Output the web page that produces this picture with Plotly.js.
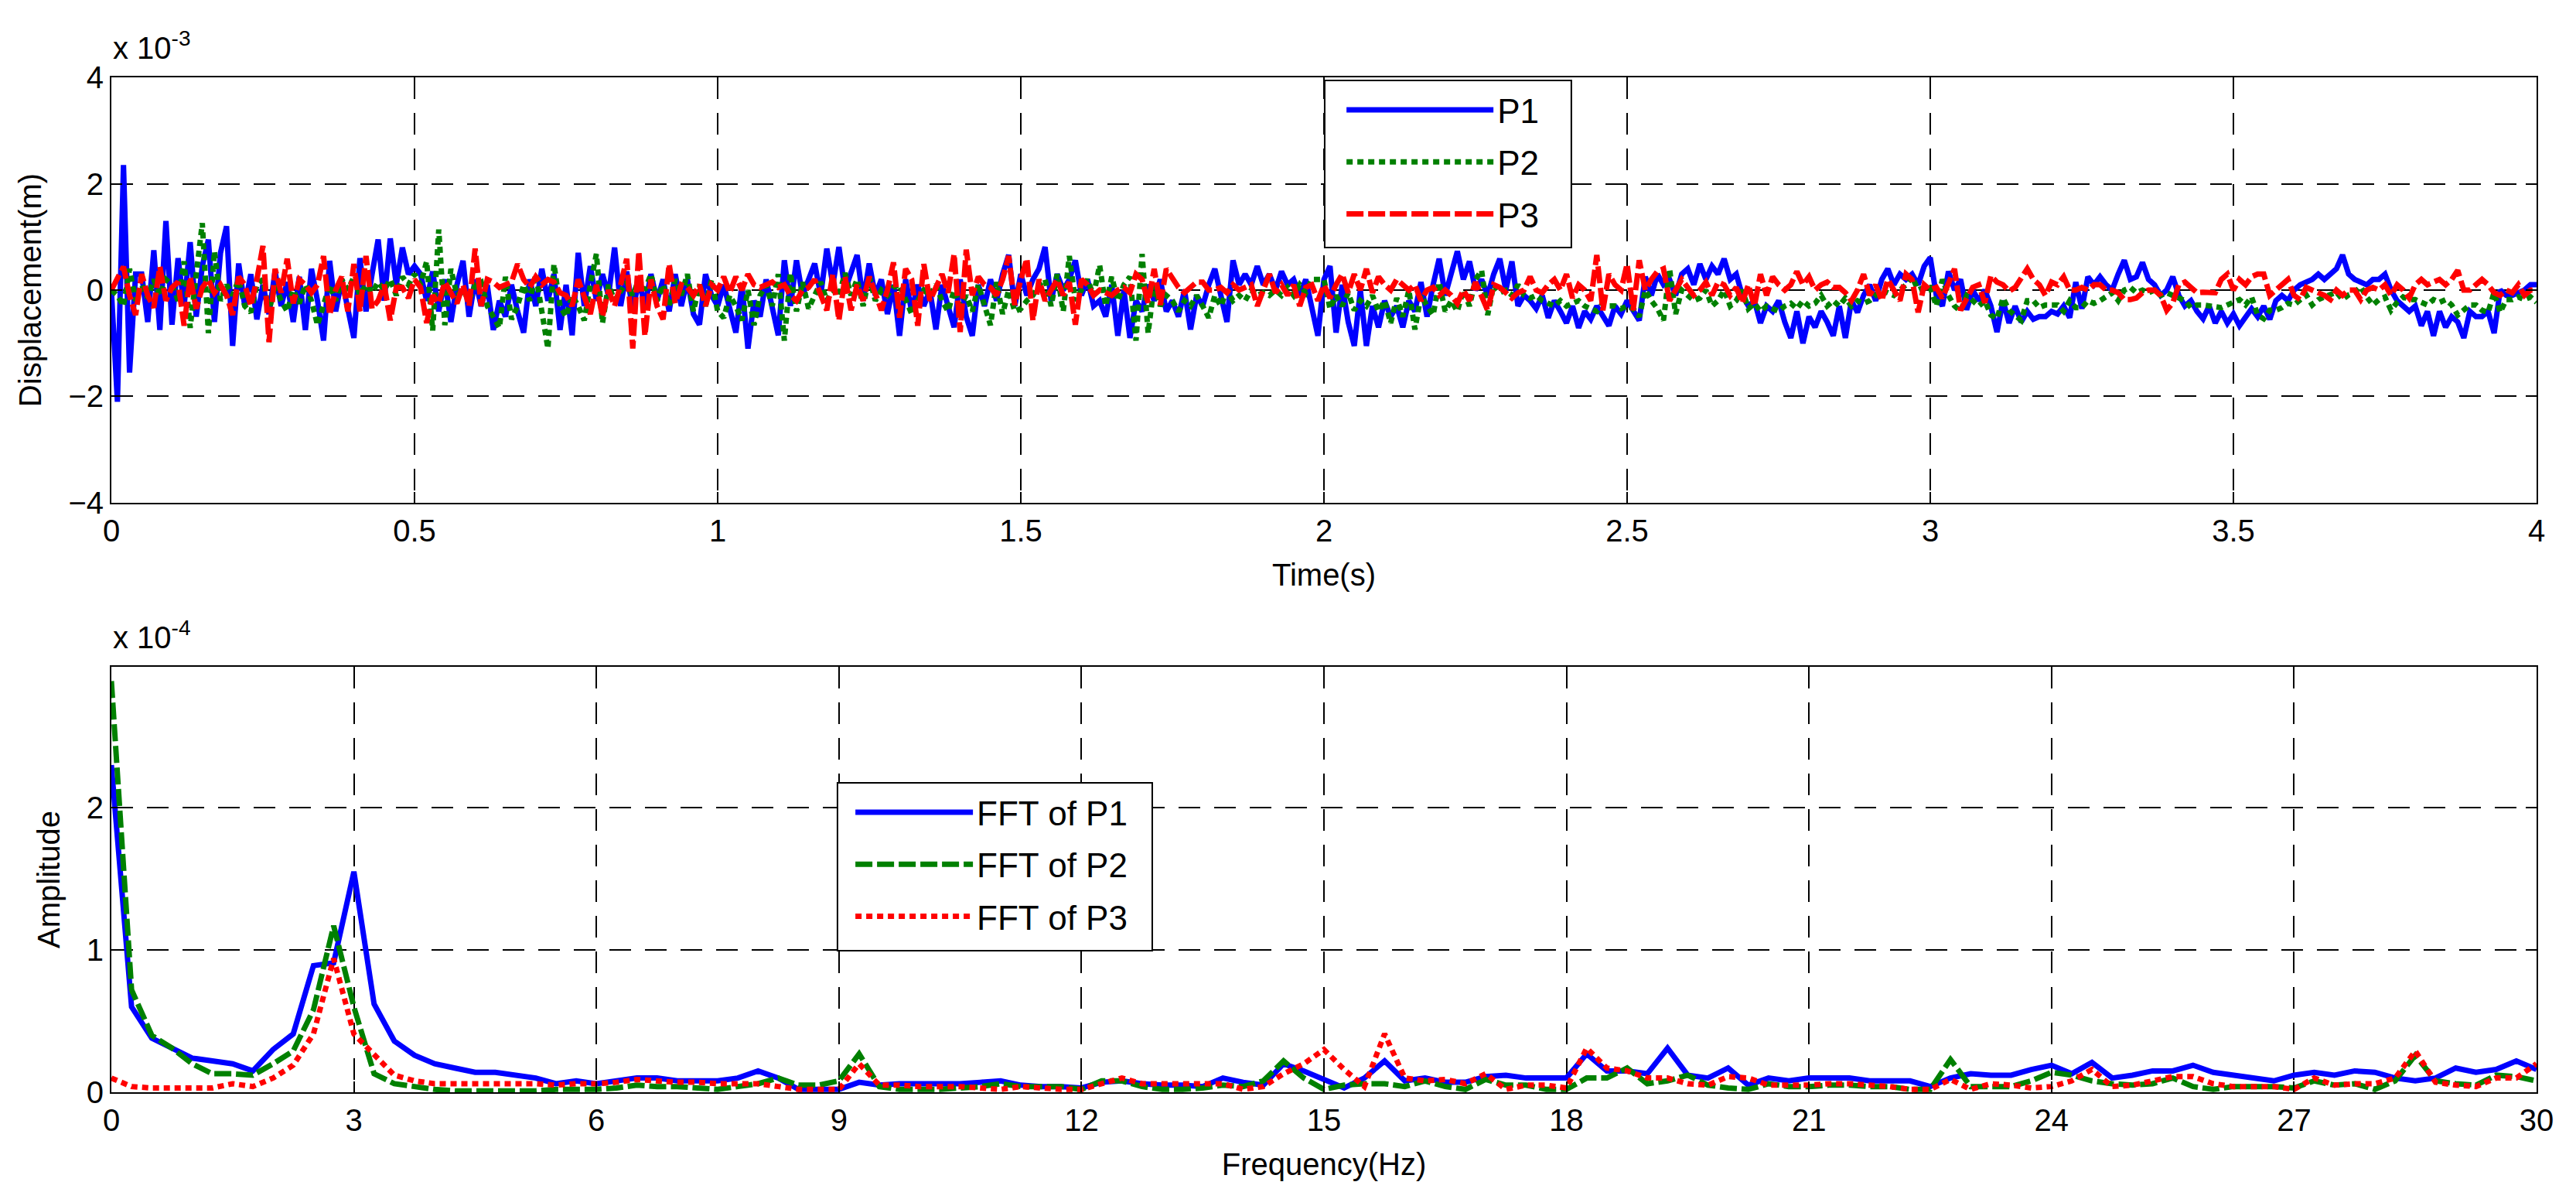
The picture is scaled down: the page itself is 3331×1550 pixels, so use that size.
<!DOCTYPE html>
<html>
<head>
<meta charset="utf-8">
<script src="https://cdn.plot.ly/plotly-3.0.1.min.js"></script>
<style>html,body{margin:0;padding:0;background:#fff;}#chart{width:3331px;height:1550px;}</style>
</head>
<body>
<div id="chart"></div>
<script>
// ---- Time series (units of 1e-3 m), sampled every 0.01 s from 0 to 4 s ----
var timeStart = 0, timeStep = 0.01;
var p1 = [
0.0,-2.1,2.35,-1.55,0.3,0.3,-0.6,0.75,-0.75,1.3,
-0.65,0.6,-0.3,0.9,-0.5,0.45,0.95,-0.6,0.7,1.2,
-1.05,0.5,-0.3,0.3,-0.55,0.1,-0.45,0.35,-0.3,0.15,
-0.6,0.25,-0.75,0.4,-0.2,-0.95,0.55,-0.4,0.2,-0.3,
-0.9,0.6,-0.4,0.3,0.95,-0.2,0.97,0.1,0.8,0.3,
0.45,0.3,-0.2,0.35,-0.4,0.2,-0.6,0.1,0.55,-0.5,
0.2,-0.3,0.1,-0.75,-0.2,-0.5,0.1,-0.4,-0.8,0.2,
-0.3,0.4,-0.2,0.3,-0.75,0.1,-0.85,0.7,-0.3,0.45,
-0.2,0.3,-0.1,0.8,-0.3,0.35,-0.4,0.2,-0.3,0.3,
-0.2,0.2,-0.4,0.3,-0.3,0.2,-0.45,-0.65,0.3,-0.1,
-0.3,0.1,-0.4,-0.8,0.1,-1.1,-0.2,-0.5,0.2,-0.3,
-0.85,0.56,-0.3,0.56,-0.1,0.2,0.5,-0.1,0.78,0.1,
0.81,0.0,0.3,0.66,-0.2,0.5,-0.1,0.2,-0.45,0.1,
-0.86,0.2,-0.4,0.1,-0.3,0.0,-0.74,0.1,-0.3,-0.7,
0.2,-0.5,-0.86,0.1,-0.3,0.2,-0.2,0.3,0.66,-0.3,
0.3,-0.1,0.2,0.4,0.81,-0.2,0.3,0.0,0.2,0.56,
-0.1,0.2,-0.3,-0.2,-0.5,0.1,-0.86,0.0,-0.9,-0.2,
-0.4,0.1,-0.2,0.2,-0.4,-0.2,-0.5,0.0,-0.74,-0.1,
-0.3,0.1,0.4,-0.1,-0.6,0.56,0.1,0.3,0.1,0.45,
0.1,0.3,0.0,0.35,0.1,0.2,-0.1,0.2,-0.3,-0.86,
0.2,0.45,-0.8,0.1,-0.6,-1.05,0.0,-1.05,-0.3,-0.7,
-0.2,-0.5,-0.3,-0.7,-0.2,-0.4,0.15,-0.5,0.1,0.59,
-0.1,0.3,0.73,0.2,0.54,0.0,0.2,-0.1,0.3,0.59,
0.0,0.54,-0.3,-0.1,-0.2,-0.35,-0.1,-0.52,-0.2,-0.4,
-0.62,-0.3,-0.71,-0.4,-0.55,-0.3,-0.5,-0.67,-0.3,-0.45,
-0.2,-0.4,-0.57,0.25,-0.1,0.3,0.1,0.2,-0.1,0.3,
0.4,0.1,0.49,0.2,0.45,0.3,0.59,0.2,0.3,-0.1,
-0.3,-0.2,-0.62,-0.3,-0.4,-0.2,-0.6,-0.9,-0.4,-1.0,
-0.5,-0.7,-0.4,-0.6,-0.86,-0.3,-0.9,-0.2,-0.42,-0.1,
0.1,-0.2,0.2,0.4,0.1,0.3,0.2,0.3,0.1,0.45,
0.61,-0.1,-0.3,0.35,0.0,0.2,-0.37,0.0,-0.2,0.0,
-0.3,-0.79,-0.2,-0.62,-0.3,-0.6,-0.4,-0.55,-0.5,-0.5,
-0.4,-0.45,-0.3,-0.52,0.15,-0.35,0.25,0.1,0.25,0.1,
0.0,0.3,0.56,0.2,0.25,0.52,0.2,0.1,-0.1,0.0,
0.25,-0.1,-0.3,-0.2,-0.4,-0.54,-0.3,-0.62,-0.4,-0.62,
-0.45,-0.67,-0.5,-0.35,-0.5,-0.3,-0.55,-0.2,-0.1,-0.2,
0.0,0.1,0.15,0.2,0.3,0.2,0.3,0.4,0.66,0.3,
0.2,0.15,0.1,0.2,0.2,0.3,0.0,-0.2,-0.3,-0.4,
-0.3,-0.67,-0.4,-0.86,-0.4,-0.7,-0.5,-0.6,-0.9,-0.4,
-0.5,-0.5,-0.4,-0.81,0.0,-0.1,-0.1,-0.05,0.0,0.1,
0.1];
var p2 = [
0.0,-0.1,-0.3,0.4,-0.2,0.1,-0.15,0.2,-0.1,0.2,
0.1,-0.2,0.54,-0.71,0.3,1.26,-0.81,0.73,-0.2,0.1,
-0.1,0.2,-0.3,-0.42,0.1,0.2,-0.4,0.1,-0.2,-0.4,
0.0,-0.25,0.1,-0.2,-0.66,-0.3,0.1,-0.2,0.2,0.0,
0.25,-0.1,0.1,-0.05,0.15,0.0,0.2,-0.1,0.25,0.1,
0.3,0.1,0.54,-0.76,1.14,-0.66,0.4,-0.1,0.0,-0.2,
0.1,0.15,-0.3,-0.5,-0.71,0.25,-0.55,-0.3,0.1,-0.2,
0.3,-0.4,-1.1,0.49,-0.3,-0.5,-0.1,-0.3,-0.57,0.1,
0.68,-0.62,0.1,-0.2,0.0,0.15,-0.1,0.2,0.0,0.3,
-0.2,0.1,-0.3,0.2,-0.1,0.3,-0.4,0.1,-0.3,0.2,
-0.4,-0.52,-0.1,-0.3,-0.57,0.0,-0.66,-0.1,0.1,-0.3,
0.3,-0.95,0.32,-0.4,0.15,-0.35,-0.1,0.15,-0.2,0.0,
-0.1,0.32,-0.1,0.2,-0.3,0.25,-0.2,0.0,-0.1,0.05,
0.1,-0.2,-0.45,-0.2,0.0,-0.1,0.1,-0.2,-0.4,0.0,
-0.3,-0.1,-0.4,0.1,-0.3,-0.66,0.15,-0.45,0.0,-0.4,
-0.35,-0.2,-0.1,0.1,0.2,-0.3,0.3,-0.4,0.64,-0.2,
0.0,0.2,-0.1,0.47,-0.3,0.25,-0.2,0.1,0.25,-0.95,
0.68,-0.81,0.1,-0.3,-0.1,-0.2,-0.4,-0.2,-0.3,-0.1,
-0.3,-0.52,-0.1,-0.3,0.0,-0.2,-0.1,-0.2,0.0,-0.1,
-0.05,-0.1,0.0,-0.1,0.05,-0.1,0.1,-0.05,0.2,0.2,
0.2,-0.35,-0.1,-0.3,-0.05,-0.38,-0.2,-0.3,-0.1,-0.4,
-0.2,-0.62,-0.15,-0.5,0.0,-0.74,-0.1,-0.3,-0.47,0.15,
-0.4,-0.2,-0.4,0.0,-0.3,0.2,0.37,-0.47,0.1,-0.05,
0.0,-0.1,0.1,-0.1,-0.15,-0.1,-0.2,-0.25,-0.3,-0.2,
-0.3,-0.25,-0.2,-0.3,-0.35,-0.4,-0.25,-0.3,-0.3,-0.35,
-0.3,-0.35,-0.5,0.0,-0.2,-0.35,-0.57,0.4,-0.45,0.0,
-0.1,-0.2,-0.15,0.0,-0.3,-0.2,0.0,-0.3,-0.2,0.0,
-0.35,-0.25,-0.4,-0.3,-0.35,-0.4,-0.3,-0.25,-0.35,-0.2,
-0.3,-0.25,-0.1,-0.3,-0.2,-0.3,-0.15,-0.3,-0.2,-0.25,
-0.2,-0.1,0.0,-0.05,-0.1,0.0,0.1,0.25,0.0,0.05,
0.05,-0.3,0.2,-0.1,-0.3,-0.4,-0.1,-0.2,-0.3,-0.2,
-0.47,-0.54,-0.15,-0.38,-0.47,-0.57,-0.2,-0.2,-0.33,-0.28,
-0.28,-0.28,-0.4,-0.2,-0.33,-0.33,-0.2,-0.25,-0.2,-0.13,
-0.05,-0.2,0.0,0.05,-0.05,0.0,-0.05,0.0,-0.1,-0.05,
-0.1,-0.13,-0.2,-0.33,-0.28,-0.28,-0.3,-0.3,-0.33,-0.28,
-0.23,-0.18,-0.28,-0.13,-0.47,-0.54,-0.38,-0.38,-0.33,-0.25,
-0.28,-0.18,-0.09,-0.28,-0.18,-0.13,-0.09,-0.04,-0.18,-0.09,
-0.04,0.06,-0.13,-0.28,-0.18,-0.13,-0.38,-0.23,-0.13,-0.18,
-0.18,-0.23,-0.28,-0.18,-0.23,-0.18,-0.28,-0.47,-0.38,-0.28,
-0.28,-0.38,-0.42,-0.04,-0.42,-0.18,-0.18,-0.13,-0.18,-0.13,
-0.23];
var p3 = [
0.0,0.2,0.44,-0.1,-0.47,0.3,-0.1,-0.33,0.44,-0.2,
0.05,0.15,-0.67,0.25,-0.35,0.05,0.2,-0.05,0.1,-0.1,
-0.47,0.25,0.1,-0.3,0.2,0.83,-0.98,0.4,-0.05,0.59,
-0.25,0.2,0.1,-0.05,0.1,0.64,-0.47,0.0,0.25,-0.4,
0.49,-0.4,0.64,-0.35,-0.2,0.1,-0.57,0.05,0.05,-0.15,
0.2,0.05,-0.62,-0.1,-0.25,0.15,-0.05,-0.25,0.1,-0.3,
0.78,-0.3,0.2,0.15,0.05,0.1,0.15,0.49,0.2,0.05,
0.25,0.1,0.2,0.15,-0.05,-0.1,-0.3,0.2,-0.1,-0.45,
0.1,-0.5,0.0,-0.3,0.1,0.59,-1.1,0.73,-0.86,0.2,
-0.3,-0.55,0.49,-0.25,0.1,0.05,-0.1,0.1,-0.3,0.1,
0.0,0.25,-0.05,0.25,0.0,0.3,0.1,0.05,0.1,0.15,
0.05,0.1,-0.1,-0.2,0.0,0.05,0.2,-0.1,-0.38,0.3,
-0.57,0.25,-0.38,0.1,-0.2,0.25,-0.1,-0.38,0.0,0.52,
-0.52,0.4,0.2,-0.67,0.49,-0.2,0.05,0.3,-0.05,0.68,
-0.79,0.76,-0.1,0.25,0.1,0.05,-0.1,0.2,0.64,-0.28,
0.2,0.59,-0.57,0.2,-0.2,0.0,0.2,-0.1,0.15,-0.65,
0.2,0.1,-0.1,0.0,-0.05,-0.1,0.0,0.05,-0.05,0.3,
0.2,-0.24,0.4,-0.28,0.4,0.2,0.05,-0.05,0.05,0.15,
0.15,0.0,0.0,0.05,-0.05,0.1,0.0,0.05,0.1,-0.3,
0.0,0.3,-0.05,0.1,-0.1,0.1,-0.3,0.05,0.1,-0.2,
0.1,-0.15,0.1,0.3,-0.05,0.3,0.0,0.4,-0.05,0.25,
0.1,0.0,0.2,0.1,0.0,0.1,-0.2,0.0,0.05,-0.1,
0.0,-0.1,-0.25,0.0,-0.2,0.15,-0.1,-0.38,0.1,0.05,
-0.05,-0.15,-0.05,0.0,0.25,0.0,-0.05,0.1,0.2,0.0,
0.3,-0.15,0.1,0.0,-0.2,0.66,-0.38,0.3,0.1,0.0,
0.49,-0.38,0.56,0.0,0.2,0.35,0.4,-0.2,0.0,0.2,
0.05,-0.1,0.0,0.15,-0.1,0.15,0.1,-0.1,0.05,-0.24,
0.1,-0.3,0.3,-0.1,0.25,0.1,0.0,0.1,0.35,0.1,
0.25,0.0,0.1,0.15,0.05,0.05,-0.05,-0.2,0.0,0.3,
-0.1,0.1,-0.2,0.2,0.0,-0.2,0.3,0.2,-0.42,0.1,
0.0,0.05,-0.15,0.1,0.4,-0.38,-0.15,0.05,0.1,-0.24,
0.27,0.15,0.1,-0.02,0.05,0.25,0.4,0.2,0.1,-0.1,
0.15,0.1,0.25,0.0,0.0,0.05,0.0,0.1,0.1,0.0,
0.0,-0.05,-0.18,-0.18,-0.15,-0.05,0.0,0.0,-0.1,-0.38,
-0.24,0.1,0.15,0.05,-0.05,-0.04,-0.04,-0.05,0.2,0.3,
0.0,0.2,0.1,0.25,0.3,0.3,-0.1,0.0,0.1,0.2,
-0.1,-0.18,0.05,0.0,-0.05,-0.1,-0.18,0.0,-0.1,0.0,
0.0,-0.18,0.0,0.05,0.0,0.1,-0.1,0.1,0.0,-0.15,
0.1,0.2,0.1,0.15,0.2,0.1,0.2,0.37,0.0,0.0,
0.1,0.2,0.1,-0.05,-0.1,0.0,-0.05,0.1,-0.1,0.0,
0.0];

// ---- FFT amplitudes (units of 1e-4), every 0.25 Hz from 0 to 30 Hz ----
var freqStart = 0, freqStep = 0.25;
var fft1 = [
2.3,0.6,0.38,0.31,0.24,0.22,0.2,0.15,0.3,0.41,
0.89,0.91,1.55,0.62,0.36,0.26,0.2,0.17,0.14,0.14,
0.12,0.1,0.06,0.08,0.06,0.08,0.1,0.1,0.08,0.08,
0.08,0.1,0.15,0.1,0.02,0.02,0.02,0.07,0.05,0.06,
0.06,0.06,0.06,0.07,0.08,0.05,0.04,0.04,0.03,0.07,
0.08,0.06,0.05,0.05,0.04,0.1,0.07,0.05,0.2,0.15,
0.09,0.03,0.1,0.22,0.08,0.1,0.07,0.07,0.11,0.12,
0.1,0.1,0.1,0.27,0.15,0.15,0.13,0.31,0.12,0.1,
0.17,0.05,0.1,0.08,0.1,0.1,0.1,0.08,0.08,0.08,
0.04,0.1,0.13,0.12,0.12,0.16,0.19,0.13,0.21,0.1,
0.12,0.15,0.15,0.19,0.14,0.12,0.1,0.08,0.12,0.14,
0.12,0.15,0.14,0.1,0.08,0.1,0.17,0.14,0.16,0.22,
0.16];
var fft2 = [
2.89,0.72,0.4,0.31,0.2,0.13,0.13,0.12,0.2,0.29,
0.58,1.17,0.6,0.13,0.06,0.04,0.02,0.01,0.01,0.01,
0.01,0.01,0.02,0.02,0.02,0.03,0.05,0.04,0.04,0.03,
0.02,0.04,0.06,0.1,0.05,0.05,0.08,0.27,0.04,0.02,
0.02,0.02,0.03,0.04,0.06,0.04,0.04,0.04,0.02,0.08,
0.08,0.04,0.02,0.02,0.03,0.05,0.04,0.08,0.22,0.1,
0.02,0.05,0.06,0.06,0.04,0.08,0.04,0.02,0.09,0.05,
0.05,0.02,0.02,0.1,0.1,0.17,0.06,0.08,0.12,0.05,
0.03,0.02,0.06,0.04,0.04,0.05,0.05,0.04,0.04,0.02,
0.02,0.23,0.04,0.04,0.04,0.08,0.14,0.12,0.08,0.06,
0.05,0.06,0.1,0.04,0.02,0.04,0.04,0.04,0.03,0.08,
0.05,0.06,0.02,0.08,0.26,0.08,0.06,0.05,0.12,0.11,
0.08];
var fft3 = [
0.1,0.04,0.03,0.03,0.03,0.03,0.06,0.04,0.1,0.19,
0.41,0.94,0.41,0.27,0.12,0.08,0.06,0.06,0.06,0.06,
0.06,0.06,0.05,0.06,0.06,0.07,0.09,0.08,0.07,0.07,
0.06,0.06,0.06,0.04,0.02,0.02,0.02,0.2,0.05,0.05,
0.04,0.04,0.04,0.03,0.02,0.04,0.03,0.02,0.02,0.06,
0.1,0.06,0.06,0.06,0.06,0.06,0.02,0.04,0.13,0.2,
0.3,0.16,0.04,0.41,0.1,0.08,0.09,0.06,0.13,0.02,
0.05,0.05,0.03,0.31,0.17,0.15,0.1,0.1,0.06,0.05,
0.11,0.1,0.05,0.05,0.05,0.06,0.06,0.05,0.04,0.02,
0.02,0.09,0.02,0.06,0.05,0.03,0.04,0.08,0.16,0.04,
0.05,0.08,0.11,0.11,0.06,0.04,0.04,0.04,0.02,0.1,
0.05,0.06,0.06,0.1,0.29,0.07,0.05,0.04,0.1,0.1,
0.2];

// ---- Tick labels ----
var timeTicks = [0,0.5,1,1.5,2,2.5,3,3.5,4];
var timeTickText = ['0','0.5','1','1.5','2','2.5','3','3.5','4'];
var dispTicks = [-4,-2,0,2,4];
var freqTicks = [0,3,6,9,12,15,18,21,24,27,30];
var ampTicks = [0,1,2];

var FONT = 'Liberation Sans, Arial, Helvetica, sans-serif';
var LW = 7;

var traces = [
  {type:'scatter', mode:'lines', name:'P1', x0:timeStart, dx:timeStep, y:p1, xaxis:'x', yaxis:'y', legend:'legend', legendgroup:'a',
   line:{color:'#0000ff', width:LW, dash:'solid'}},
  {type:'scatter', mode:'lines', name:'P2', x0:timeStart, dx:timeStep, y:p2, xaxis:'x', yaxis:'y', legend:'legend', legendgroup:'b',
   line:{color:'#008000', width:LW, dash:'8px,6px'}},
  {type:'scatter', mode:'lines', name:'P3', x0:timeStart, dx:timeStep, y:p3, xaxis:'x', yaxis:'y', legend:'legend', legendgroup:'c',
   line:{color:'#ff0000', width:LW, dash:'22px,6px'}},
  {type:'scatter', mode:'lines', name:'FFT of P1', x0:freqStart, dx:freqStep, y:fft1, xaxis:'x2', yaxis:'y2', legend:'legend2', legendgroup:'d',
   line:{color:'#0000ff', width:LW, dash:'solid'}},
  {type:'scatter', mode:'lines', name:'FFT of P2', x0:freqStart, dx:freqStep, y:fft2, xaxis:'x2', yaxis:'y2', legend:'legend2', legendgroup:'e',
   line:{color:'#008000', width:LW, dash:'22px,6px'}},
  {type:'scatter', mode:'lines', name:'FFT of P3', x0:freqStart, dx:freqStep, y:fft3, xaxis:'x2', yaxis:'y2', legend:'legend2', legendgroup:'f',
   line:{color:'#ff0000', width:LW, dash:'8px,6px'}}
];

function axisBase(extra){
  var a = {
    showline:true, mirror:'ticks', linecolor:'#000', linewidth:2,
    ticks:'inside', ticklen:14, tickwidth:2, tickcolor:'#000',
    showgrid:true, gridcolor:'#000', gridwidth:2, griddash:'28px,18px',
    zeroline:false, tickfont:{family:FONT, size:40, color:'#000'},
    fixedrange:true
  };
  for (var k in extra) a[k] = extra[k];
  return a;
}

var legendFont = {family:FONT, size:44, color:'#000'};

var layout = {
  width:3331, height:1550, autosize:false,
  margin:{l:144, r:51, t:100, b:138},
  paper_bgcolor:'#fff', plot_bgcolor:'#fff',
  font:{family:FONT, size:40, color:'#000'},
  showlegend:true,
  xaxis: axisBase({domain:[0,1], anchor:'y', range:[0,4], tickmode:'array', tickvals:timeTicks, ticktext:timeTickText,
    title:{text:'Time(s)', font:{family:FONT, size:40}, standoff:22}}),
  yaxis: axisBase({domain:[0.5808,1], anchor:'x', range:[-4,4], tickmode:'array', tickvals:dispTicks,
    title:{text:'Displacement(m)', font:{family:FONT, size:40}, standoff:22}}),
  xaxis2: axisBase({domain:[0,1], anchor:'y2', range:[0,30], tickmode:'array', tickvals:freqTicks,
    title:{text:'Frequency(Hz)', font:{family:FONT, size:40}, standoff:22}}),
  yaxis2: axisBase({domain:[0,0.4192], anchor:'x2', range:[0,2.99], tickmode:'array', tickvals:ampTicks,
    title:{text:'Amplitude', font:{family:FONT, size:40}, standoff:22}}),
  legend:{x:0.5077, y:0.9947, xanchor:'left', yanchor:'top', bgcolor:'rgba(0,0,0,0)', borderwidth:0,
    font:legendFont, itemwidth:190, traceorder:'grouped', tracegroupgap:7},
  legend2:{x:0.3052, y:0.3026, xanchor:'left', yanchor:'top', bgcolor:'rgba(0,0,0,0)', borderwidth:0,
    font:legendFont, itemwidth:152, traceorder:'grouped', tracegroupgap:7},
  shapes:[
    {type:'rect', xref:'paper', yref:'paper', x0:0.5003, x1:0.6020, y0:0.8323, y1:0.9970,
     fillcolor:'#fff', line:{color:'#000', width:2}, layer:'above'},
    {type:'rect', xref:'paper', yref:'paper', x0:0.2994, x1:0.4292, y0:0.1395, y1:0.3049,
     fillcolor:'#fff', line:{color:'#000', width:2}, layer:'above'}
  ],
  annotations:[
    {xref:'paper', yref:'paper', x:0, y:1, xanchor:'left', yanchor:'bottom', yshift:14, showarrow:false,
     text:'x 10<sup>-3</sup>', font:{family:FONT, size:40, color:'#000'}},
    {xref:'paper', yref:'paper', x:0, y:0.4192, xanchor:'left', yanchor:'bottom', yshift:14, showarrow:false,
     text:'x 10<sup>-4</sup>', font:{family:FONT, size:40, color:'#000'}}
  ]
};

Plotly.newPlot('chart', traces, layout, {displayModeBar:false, staticPlot:true});
</script>
</body>
</html>
